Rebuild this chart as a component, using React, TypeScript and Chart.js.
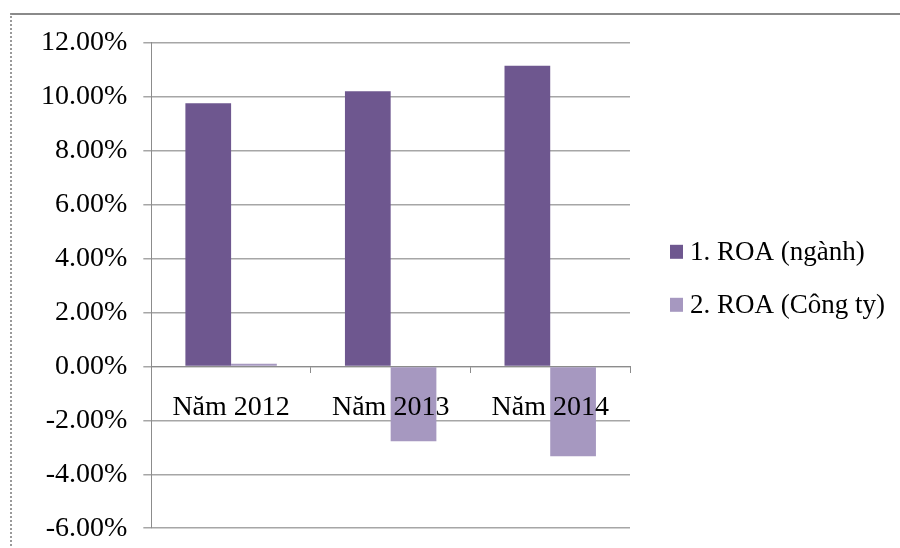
import React, { useEffect, useRef } from "react";
import { Chart, registerables } from "chart.js";

Chart.register(...registerables);

const categories = ["Năm 2012", "Năm 2013", "Năm 2014"];
const roaIndustry = [9.76, 10.2, 11.15];
const roaCompany = [0.1, -2.78, -3.33];
const seriesNames = ["1. ROA (ngành)", "2. ROA (Công ty)"];
const seriesColors = ["#6E578F", "#A698C0"];

const FONT = "'Liberation Serif', 'Times New Roman', serif";

const sideLegend = {
  id: "sideLegend",
  afterDraw(chart: any) {
    const ctx = chart.ctx as CanvasRenderingContext2D;
    const area = chart.chartArea;
    const boxX = area.right + 40;
    const firstY = area.top + 209;
    const step = 53;
    ctx.save();
    ctx.font = `27px ${FONT}`;
    ctx.textBaseline = "middle";
    ctx.textAlign = "left";
    chart.data.datasets.forEach((ds: any, i: number) => {
      const cy = firstY + i * step;
      ctx.fillStyle = ds.backgroundColor;
      ctx.fillRect(boxX, cy - 7, 13, 14);
      ctx.fillStyle = "#000";
      ctx.fillText(ds.label, boxX + 20, cy + 1);
    });
    ctx.restore();
  },
};

export default function App() {
  const ref = useRef<HTMLCanvasElement | null>(null);

  useEffect(() => {
    if (!ref.current) return;
    const chart = new Chart(ref.current, {
      type: "bar",
      data: {
        labels: categories,
        datasets: [
          { label: seriesNames[0], data: roaIndustry, backgroundColor: seriesColors[0], borderWidth: 0 },
          { label: seriesNames[1], data: roaCompany, backgroundColor: seriesColors[1], borderWidth: 0 },
        ],
      },
      plugins: [sideLegend],
      options: {
        animation: false,
        responsive: false,
        maintainAspectRatio: false,
        datasets: { bar: { barPercentage: 1, categoryPercentage: 0.573 } },
        layout: { padding: { left: 13, top: 27, bottom: 8, right: 270 } },
        plugins: {
          tooltip: { enabled: false },
          legend: { display: false },
        },
        scales: {
          x: {
            position: { y: 0 },
            grid: {
              display: true,
              drawOnChartArea: false,
              drawTicks: true,
              tickLength: 6,
              color: "#8c8c8c",
              offset: true,
            },
            border: { display: true, color: "#8c8c8c" },
            ticks: {
              z: 1,
              font: { family: FONT, size: 28 },
              color: "#000",
              padding: 18,
              maxRotation: 0,
            },
          },
          y: {
            min: -6,
            max: 12,
            grid: { color: "#a6a6a6", tickLength: 8, lineWidth: 1.5 },
            border: { display: true, color: "#8c8c8c" },
            ticks: {
              stepSize: 2,
              font: { family: FONT, size: 28 },
              color: "#000",
              padding: 16,
              callback: (v: any) => Number(v).toFixed(2) + "%",
            },
          },
        },
      },
    });
    return () => chart.destroy();
  }, []);

  return (
    <div style={{ position: "absolute", left: 0, top: 0, width: 900, height: 548, overflow: "hidden", background: "#fff" }}>
      <div
        style={{
          position: "absolute",
          left: 10,
          top: 13,
          width: 900,
          height: 600,
          borderTop: "2px solid #8a8a8a",
          borderLeft: "2px dotted #9a9a9a",
          boxSizing: "border-box",
        }}
      />
      <canvas ref={ref} width={888} height={551} style={{ position: "absolute", left: 12, top: 10 }} />
    </div>
  );
}
